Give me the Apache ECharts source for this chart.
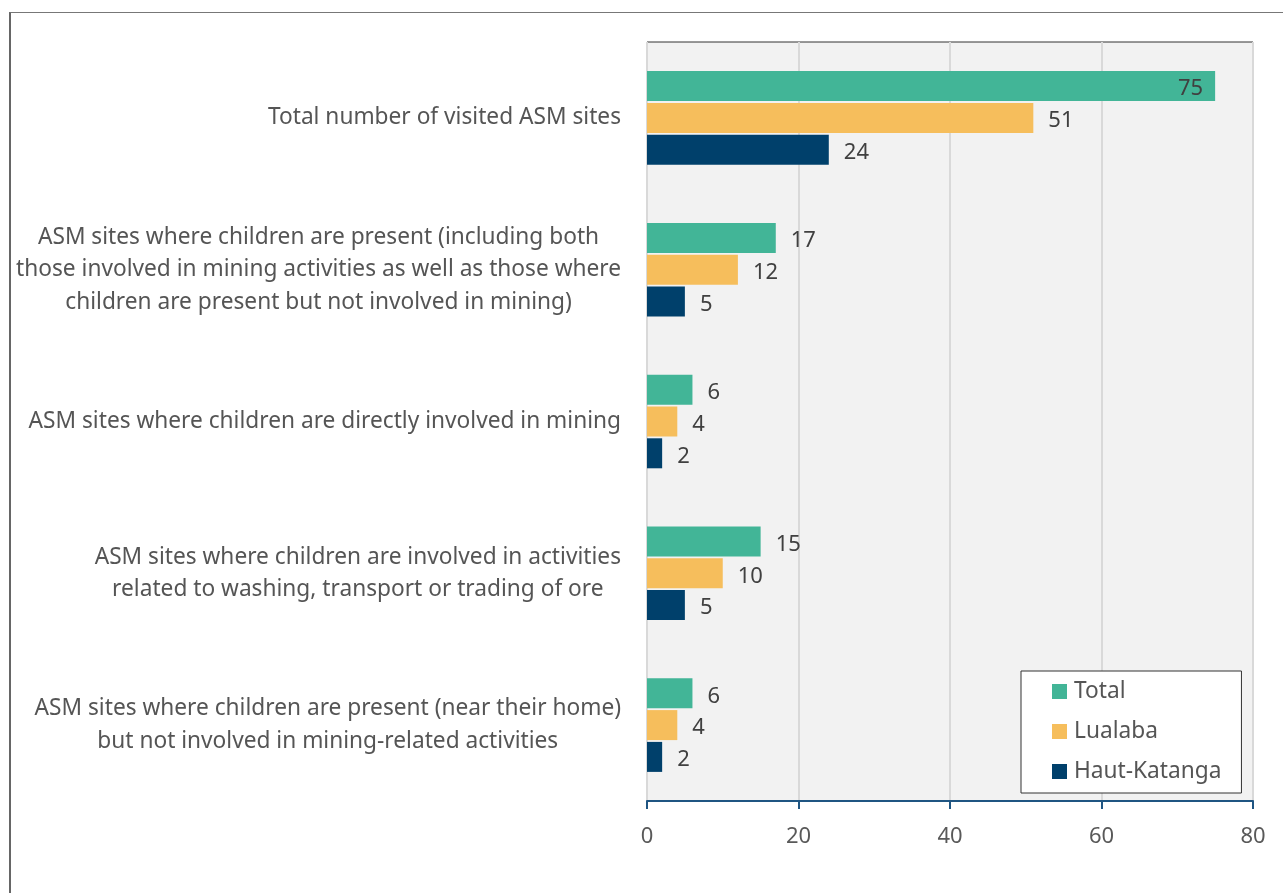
<!DOCTYPE html>
<html>
<head>
<meta charset="utf-8">
<script src="https://cdn.jsdelivr.net/npm/echarts@6/dist/echarts.min.js"></script>
<style>
html,body{margin:0;padding:0;background:#fff;}
#chart{position:absolute;left:0;top:0;width:1283px;height:893px;}
#frame{position:absolute;left:9px;top:12px;width:1300px;height:900px;border-left:2px solid #666;border-top:1px solid #777;pointer-events:none;}
</style>
</head>
<body>
<div id="chart"></div>
<div id="frame"></div>
<script>
const categories = [
  "Total number of visited ASM sites",
  "ASM sites where children are present (including both\nthose involved in mining activities as well as those where\nchildren are present but not involved in mining)",
  "ASM sites where children are directly involved in mining",
  "ASM sites where children are involved in activities\nrelated to washing, transport or trading of ore",
  "ASM sites where children are present (near their home)\nbut not involved in mining-related activities"
];
const seriesNames = ["Total", "Lualaba", "Haut-Katanga"];
const totalValues = [75, 17, 6, 15, 6];
const lualabaValues = [51, 12, 4, 10, 4];
const hautKatangaValues = [24, 5, 2, 5, 2];
const xTicks = [0, 20, 40, 60, 80];

const colors = ["#42b597", "#f6be5c", "#00406b"];
const FONT = "'Noto Sans', 'Open Sans', sans-serif";

function buildData(values) {
  return values.map(function (v) {
    if (v >= 70) {
      return { value: v, label: { position: 'insideRight', distance: 12 } };
    }
    return v;
  });
}

const allValues = [totalValues, lualabaValues, hautKatangaValues];

const chart = echarts.init(document.getElementById('chart'), null, { renderer: 'canvas' });
chart.setOption({
  animation: false,
  textStyle: { fontFamily: FONT },
  grid: {
    left: 647, top: 42, right: 30, bottom: 92,
    show: true, backgroundColor: '#f2f2f2', borderColor: '#333', borderWidth: 1
  },
  legend: {
    orient: 'vertical',
    left: 1021, top: 671,
    backgroundColor: '#fff',
    borderColor: '#333', borderWidth: 1,
    padding: [9, 20, 10, 31],
    itemGap: 17,
    itemWidth: 15, itemHeight: 15,
    icon: 'rect',
    textStyle: { fontFamily: FONT, fontSize: 22.7, color: '#555', padding: [0, 0, 0, 2] },
    data: seriesNames
  },
  xAxis: {
    type: 'value',
    min: xTicks[0], max: xTicks[xTicks.length - 1], interval: 20,
    axisLine: { show: true, lineStyle: { color: '#1f5582', width: 2 } },
    axisTick: { show: true, length: 8, lineStyle: { color: '#1f5582', width: 2 } },
    axisLabel: { margin: 25, fontSize: 22, color: '#595959', fontFamily: FONT },
    splitLine: { show: true, lineStyle: { color: '#d9d9d9', width: 2 } }
  },
  yAxis: {
    type: 'category',
    inverse: true,
    data: categories,
    axisLine: { show: false },
    axisTick: { show: false },
    axisLabel: {
      margin: 26,
      formatter: function (s) {
        return s.split('\n').map(function (l) { return '{c|' + l + '}'; }).join('\n');
      },
      rich: { c: { align: 'center', fontSize: 22.7, lineHeight: 32.5, color: '#555', fontFamily: FONT } }
    }
  },
  series: seriesNames.map(function (name, i) {
    return {
      name: name,
      type: 'bar',
      data: buildData(allValues[i]),
      barWidth: 30,
      barGap: '6%',
      itemStyle: { color: colors[i] },
      label: {
        show: true, position: 'right', distance: 15,
        fontSize: 22, color: '#404040', fontFamily: FONT,
        offset: [0, 3]
      }
    };
  })
});
</script>
</body>
</html>
